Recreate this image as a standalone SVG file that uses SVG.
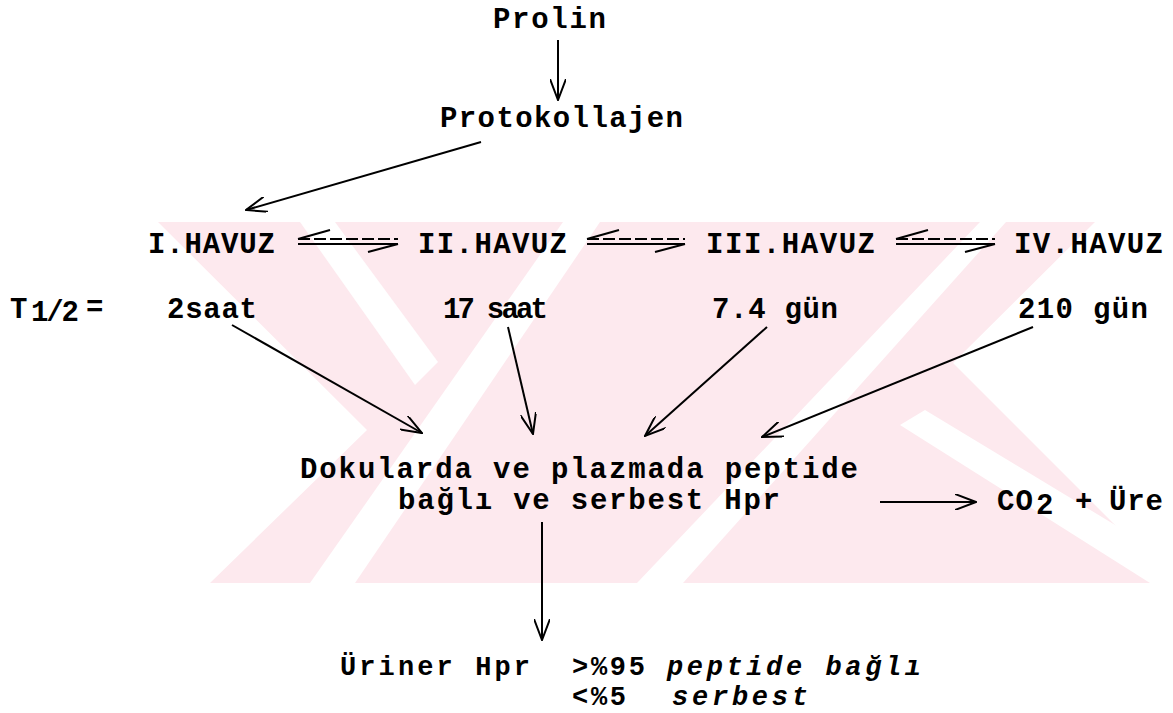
<svg xmlns="http://www.w3.org/2000/svg" width="1173" height="713" viewBox="0 0 1173 713">
<style>
.t{font-family:"Liberation Mono","DejaVu Sans Mono",monospace;font-size:29px;font-weight:bold;fill:#000}
.s{font-size:27px}
.it{font-style:italic}
.ln{stroke:#000;stroke-width:2;fill:none}
.wm{fill:#fde9ee}
.wg{fill:#fff}
</style>
<defs>
<marker id="ah" viewBox="0 0 22 16" refX="21" refY="8" markerWidth="22" markerHeight="16" markerUnits="userSpaceOnUse" orient="auto">
<path d="M0,0 L21,8 L0,16" fill="none" stroke="#000" stroke-width="2"/>
</marker>
</defs>
<rect width="1173" height="713" fill="#fff"/>
<g id="watermark">
<polygon class="wm" points="158,222 1095,222 953,363 1173,583 210,583 367,430"/>
<polygon class="wg" points="300,222 335,222 438,362 415,385"/>
<polygon class="wg" points="563,222 600,222 355,583 310,583"/>
<polygon class="wg" points="980,222 1006,222 683,583 637,583"/>
<polygon class="wg" points="900,425 925,410 1173,560 1173,583 1150,583"/>
</g>
<g id="connectors">
<line class="ln" x1="558" y1="40" x2="558" y2="100" marker-end="url(#ah)"/>
<line class="ln" x1="481" y1="142" x2="246" y2="210" marker-end="url(#ah)"/>
<g id="eq1"><line class="ln" x1="298" y1="239" x2="398" y2="239" stroke-dasharray="12,4"/><line class="ln" x1="298" y1="244" x2="398" y2="244"/><line class="ln" x1="298" y1="239" x2="330" y2="230"/><line class="ln" x1="398" y1="244" x2="368" y2="252"/></g>
<g id="eq2"><line class="ln" x1="587" y1="239" x2="685" y2="239" stroke-dasharray="12,4"/><line class="ln" x1="587" y1="244" x2="685" y2="244"/><line class="ln" x1="587" y1="239" x2="619" y2="230"/><line class="ln" x1="685" y1="244" x2="655" y2="252"/></g>
<g id="eq3"><line class="ln" x1="896" y1="239" x2="995" y2="239" stroke-dasharray="12,4"/><line class="ln" x1="896" y1="244" x2="995" y2="244"/><line class="ln" x1="896" y1="239" x2="928" y2="230"/><line class="ln" x1="995" y1="244" x2="965" y2="252"/></g>
<line class="ln" x1="232" y1="325" x2="422" y2="433" marker-end="url(#ah)"/>
<line class="ln" x1="508" y1="327" x2="533" y2="434" marker-end="url(#ah)"/>
<line class="ln" x1="767" y1="327" x2="645" y2="436" marker-end="url(#ah)"/>
<line class="ln" x1="1033" y1="327" x2="762" y2="437" marker-end="url(#ah)"/>
<line class="ln" x1="880" y1="502" x2="976" y2="502" marker-end="url(#ah)"/>
<line class="ln" x1="542" y1="522" x2="542" y2="640" marker-end="url(#ah)"/>
</g>
<g id="n-prolin"><text class="t" x="493" y="28" textLength="113" lengthAdjust="spacing">Prolin</text></g>
<g id="n-protokollajen"><text class="t" x="440" y="127" textLength="243" lengthAdjust="spacing">Protokollajen</text></g>
<g id="n-havuz1"><text class="t" x="148" y="253" textLength="127" lengthAdjust="spacing">I.HAVUZ</text></g>
<g id="n-havuz2"><text class="t" x="418" y="253" textLength="149" lengthAdjust="spacing">II.HAVUZ</text></g>
<g id="n-havuz3"><text class="t" x="706" y="253" textLength="169" lengthAdjust="spacing">III.HAVUZ</text></g>
<g id="n-havuz4"><text class="t" x="1014" y="253" textLength="149" lengthAdjust="spacing">IV.HAVUZ</text></g>
<g id="n-t12">
<text class="t" x="10" y="318">T</text>
<text class="t" x="31" y="321" font-size="23" textLength="48" lengthAdjust="spacing">1/2</text>
<text class="t" x="86" y="316" font-size="23">=</text>
</g>
<g id="n-2saat"><text class="t" x="167" y="318" textLength="90" lengthAdjust="spacing">2saat</text></g>
<g id="n-17saat"><text class="t" x="443" y="318" textLength="105" lengthAdjust="spacing">17 saat</text></g>
<g id="n-74gun"><text class="t" x="712" y="318" textLength="126" lengthAdjust="spacing">7.4 gün</text></g>
<g id="n-210gun"><text class="t" x="1018" y="318" textLength="130" lengthAdjust="spacing">210 gün</text></g>
<g id="n-doku">
<text class="t" x="300" y="478" textLength="558" lengthAdjust="spacing">Dokularda ve plazmada peptide</text>
<text class="t" x="398" y="509" textLength="382" lengthAdjust="spacing">bağlı ve serbest Hpr</text>
</g>
<g id="n-co2">
<text class="t" x="997" y="510" textLength="36" lengthAdjust="spacing">CO</text>
<text class="t" x="1036" y="514" font-size="21">2</text>
<text class="t" x="1075" y="510">+</text>
<text class="t" x="1109" y="510" textLength="54" lengthAdjust="spacing">Üre</text>
</g>
<g id="n-uriner">
<text class="t s" x="340" y="675" textLength="190" lengthAdjust="spacing">Üriner Hpr</text>
<text class="t s" x="572" y="675" textLength="73" lengthAdjust="spacing">&gt;%95</text>
<text class="t s it" x="667" y="675" textLength="254" lengthAdjust="spacing">peptide bağlı</text>
<text class="t s" x="572" y="705" textLength="54" lengthAdjust="spacing">&lt;%5</text>
<text class="t s it" x="672" y="705" textLength="136" lengthAdjust="spacing">serbest</text>
</g>
</svg>
